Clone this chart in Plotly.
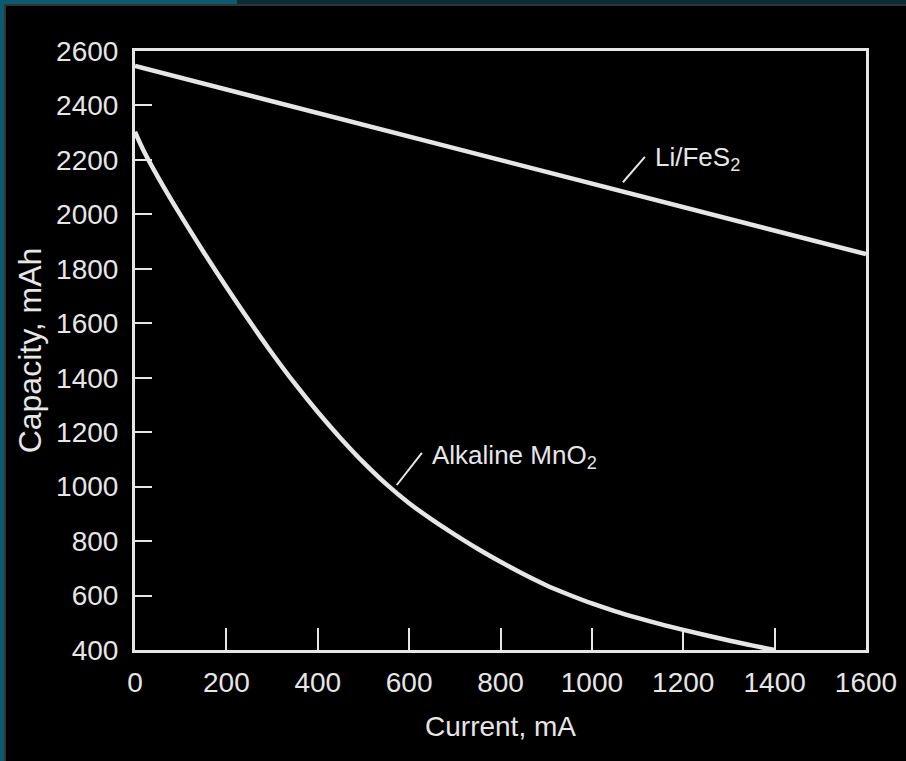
import plotly.graph_objects as go

# ---- data ----
li_current = [0, 200, 400, 600, 800, 1000, 1200, 1400, 1600]
li_capacity = [2545, 2459, 2372, 2286, 2200, 2113, 2027, 1940, 1854]

alk_current = [0, 20, 50, 100, 150, 200, 250, 300, 350, 400, 450, 500, 550,
               600, 650, 700, 750, 800, 850, 900, 950, 1000, 1050, 1100, 1150,
               1200, 1250, 1300, 1350, 1400]
alk_capacity = [2303, 2230, 2138, 1996, 1862, 1733, 1609, 1490, 1378, 1274, 1178,
                1089, 1009, 939, 879, 824, 772, 724, 679, 638, 603, 571, 543,
                518, 495, 474, 454, 435, 417, 400]

x_ticks = [0, 200, 400, 600, 800, 1000, 1200, 1400, 1600]
y_ticks = [400, 600, 800, 1000, 1200, 1400, 1600, 1800, 2000, 2200, 2400, 2600]

x_title = "Current, mA"
y_title = "Capacity, mAh"
li_label = "Li/FeS<sub>2</sub>"
alk_label = "Alkaline MnO<sub>2</sub>"

# ---- styling ----
W, H = 906, 761
L, R, T, B = 135, 40, 51, 111
FG = "#e6e6e6"
FONT = "Liberation Sans, Arial, sans-serif"

fig = go.Figure()
fig.add_trace(go.Scatter(x=li_current, y=li_capacity, mode="lines",
                         line=dict(color=FG, width=4.5), showlegend=False,
                         hoverinfo="skip"))
fig.add_trace(go.Scatter(x=alk_current, y=alk_capacity, mode="lines",
                         line=dict(color=FG, width=4.5, shape="spline", smoothing=1),
                         showlegend=False, hoverinfo="skip"))

pw = W - L - R
ph = H - T - B


def px_x(p):
    return (p - L) / pw


def px_y(p):
    return 1 - (p - T) / ph


# decorative frame of the slide (teal strips)
shapes = [
    dict(type="rect", xref="paper", yref="paper", x0=px_x(0), x1=px_x(W), y0=px_y(0), y1=px_y(4),
         fillcolor="#0a2c36", line_width=0, layer="below"),
    dict(type="rect", xref="paper", yref="paper", x0=px_x(0), x1=px_x(237), y0=px_y(0), y1=px_y(4),
         fillcolor="#0b5a6e", line_width=0, layer="below"),
    dict(type="rect", xref="paper", yref="paper", x0=px_x(0), x1=px_x(W), y0=px_y(4), y1=px_y(6),
         fillcolor="#333333", line_width=0, layer="below"),
    dict(type="rect", xref="paper", yref="paper", x0=px_x(0), x1=px_x(4), y0=px_y(0), y1=px_y(H),
         fillcolor="#0b5a6e", line_width=0, layer="below"),
    dict(type="rect", xref="paper", yref="paper", x0=px_x(4), x1=px_x(6), y0=px_y(4), y1=px_y(H),
         fillcolor="#333333", line_width=0, layer="below"),
    # label pointers
    dict(type="line", xref="x", yref="y", x0=1068, y0=2118, x1=1116, y1=2211,
         line=dict(color=FG, width=2)),
    dict(type="line", xref="x", yref="y", x0=573, y0=1006, x1=628, y1=1124,
         line=dict(color=FG, width=2)),
]

annotations = [
    dict(x=1134, y=2207, xref="x", yref="y", text=li_label, showarrow=False,
         xanchor="left", yanchor="middle", font=dict(family=FONT, size=26, color=FG)),
    dict(x=646, y=1110, xref="x", yref="y", text=alk_label, showarrow=False,
         xanchor="left", yanchor="middle", font=dict(family=FONT, size=26, color=FG)),
]

axis_common = dict(showgrid=False, zeroline=False, showline=True, linecolor=FG,
                   linewidth=3, mirror=True, ticks="inside", tickcolor=FG,
                   tickwidth=2, automargin=False,
                   tickfont=dict(family=FONT, size=28, color=FG))

fig.update_layout(
    width=W, height=H,
    margin=dict(l=L, r=R, t=T, b=B, pad=0),
    paper_bgcolor="black", plot_bgcolor="black",
    shapes=shapes, annotations=annotations,
    xaxis=dict(range=[0, 1600], tickvals=x_ticks, ticklen=22, ticklabelstandoff=5,
               title=dict(text=x_title, font=dict(family=FONT, size=28, color=FG), standoff=20),
               **axis_common),
    yaxis=dict(range=[400, 2600], tickvals=y_ticks, ticklen=17, ticklabelstandoff=8,
               title=dict(text=y_title, font=dict(family=FONT, size=32, color=FG), standoff=5),
               **axis_common),
)

fig.write_html("out.html", config={"displayModeBar": False},
               post_script="document.body.style.margin='0';document.body.style.background='black';")
